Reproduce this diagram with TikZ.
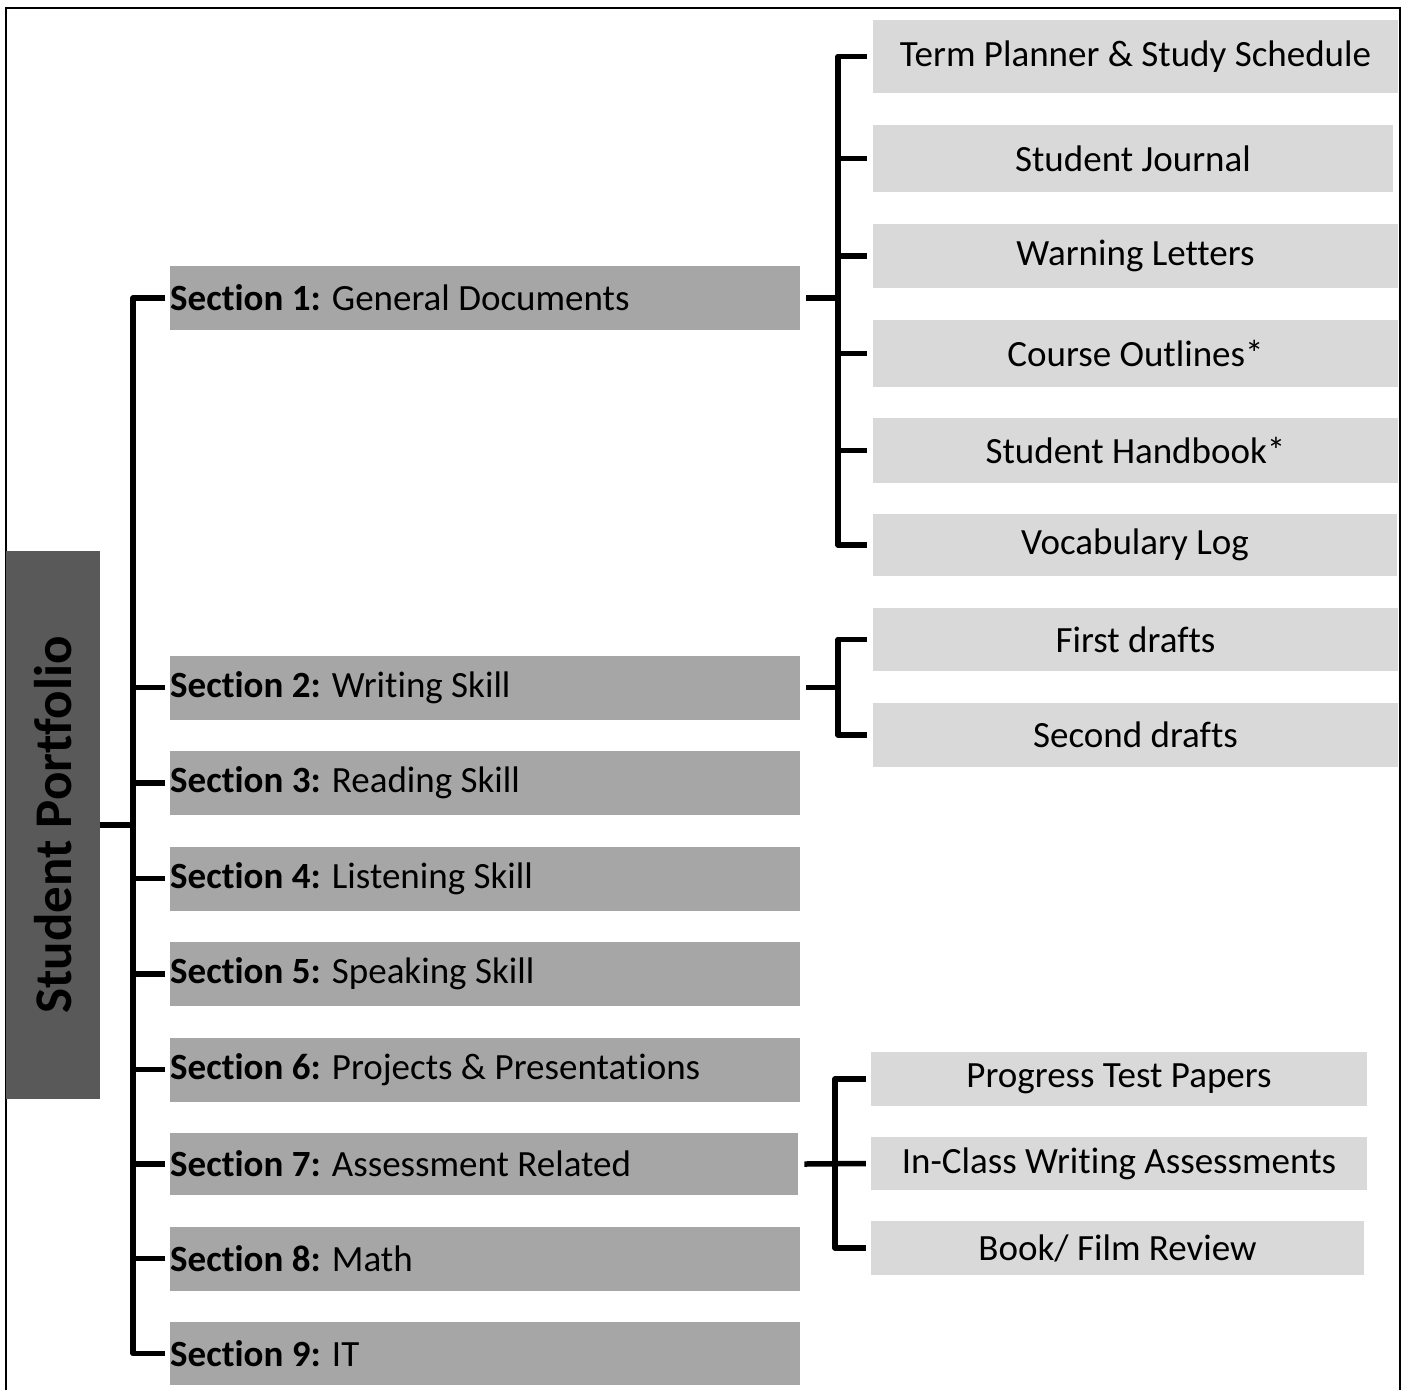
\documentclass[tikz,border=0pt]{standalone}
\usepackage{fontspec}
\setmainfont[Ligatures=NoCommon]{Carlito}
\usepackage{xcolor}
\usepackage{tikz}
\definecolor{titlegray}{HTML}{595959}
\definecolor{secgray}{HTML}{A6A6A6}
\definecolor{subgray}{HTML}{D9D9D9}
\tikzset{
  conn/.style={line width=5.5pt, line join=round},
  secbox/.style={fill=secgray, anchor=west, inner sep=0pt, minimum height=64pt,
    text width=630pt, align=flush left, font=\fontsize{37}{44}\selectfont},
  subbox/.style={fill=subgray, inner sep=0pt, font=\fontsize{37}{44}\selectfont}
}

\begin{document}
\begin{tikzpicture}[x=1pt,y=-1pt]
\useasboundingbox (0,0) rectangle (1404,1390);
\draw[line width=2pt] (6,1390) -- (6,8) -- (1400,8) -- (1400,1390);

\node[fill=titlegray, rotate=90, inner sep=0pt, minimum width=548pt, minimum height=94pt,
  font=\fontsize{53}{60}\selectfont\bfseries] (title) at (53,825) {Student Portfolio};

\node[secbox] (s1) at (170,298) {\textbf{Section 1:} General Documents};
\node[secbox] (s2) at (170,687.5) {\textbf{Section 2:} Writing Skill};
\node[secbox] (s3) at (170,783) {\textbf{Section 3:} Reading Skill};
\node[secbox] (s4) at (170,878.5) {\textbf{Section 4:} Listening Skill};
\node[secbox] (s5) at (170,974) {\textbf{Section 5:} Speaking Skill};
\node[secbox] (s6) at (170,1069.5) {\textbf{Section 6:} Projects \& Presentations};
\node[secbox, text width=628pt, minimum height=62pt] (s7) at (170,1164) {\textbf{Section 7:} Assessment Related};
\node[secbox] (s8) at (170,1258.5) {\textbf{Section 8:} Math};
\node[secbox, minimum height=63pt] (s9) at (170,1353.5) {\textbf{Section 9:} IT};

\node[subbox, minimum width=525pt, minimum height=73pt] (c1) at (1135.5,56.5) {Term Planner \& Study Schedule};
\node[subbox, minimum width=520pt, minimum height=67pt] (c2) at (1133,158.5) {Student Journal};
\node[subbox, minimum width=525pt, minimum height=64pt] (c3) at (1135.5,256) {Warning Letters};
\node[subbox, minimum width=525pt, minimum height=67pt] (c4) at (1135.5,353.5) {Course Outlines*};
\node[subbox, minimum width=525pt, minimum height=65pt] (c5) at (1135.5,450.5) {Student Handbook*};
\node[subbox, minimum width=524pt, minimum height=62pt] (c6) at (1135,545) {Vocabulary Log};

\node[subbox, minimum width=525pt, minimum height=63pt] (d1) at (1135.5,639.5) {First drafts};
\node[subbox, minimum width=525pt, minimum height=64pt] (d2) at (1135.5,735) {Second drafts};

\node[subbox, minimum width=496pt, minimum height=54pt] (e1) at (1119,1079) {Progress Test Papers};
\node[subbox, minimum width=496pt, minimum height=53pt] (e2) at (1119,1163.5) {In-Class Writing Assessments};
\node[subbox, minimum width=493pt, minimum height=54pt] (e3) at (1117.5,1248) {Book/ Film Review};

% trunk
\coordinate (tk) at (133,825);
\draw[conn] (title.south) -- (tk);
\draw[conn] ([xshift=-5pt]s1.west) -| (tk) |- ([xshift=-5pt]s9.west);
\foreach \i in {2,...,8}
  \draw[conn] ([xshift=-5pt]s\i.west) -- (s\i.west -| tk);

% section 1
\coordinate (b1) at (838,298);
\draw[conn] ([xshift=6pt]s1.east) -- (b1);
\draw[conn] ([xshift=-6pt]c1.west) -| (b1) |- ([xshift=-6pt]c6.west);
\foreach \i in {2,...,5}
  \draw[conn] ([xshift=-6pt]c\i.west) -- (c\i.west -| b1);

% section 2
\coordinate (b2) at (838,687.5);
\draw[conn] ([xshift=6pt]s2.east) -- (b2);
\draw[conn] ([xshift=-6pt]d1.west) -| (b2) |- ([xshift=-6pt]d2.west);

% section 7
\coordinate (b7) at (835,1164);
\draw[conn] ([xshift=6pt]s7.east) -- ([xshift=-5pt]e2.west);
\draw[conn] ([xshift=-5pt]e1.west) -| (b7) |- ([xshift=-5pt]e3.west);

\end{tikzpicture}
\end{document}
